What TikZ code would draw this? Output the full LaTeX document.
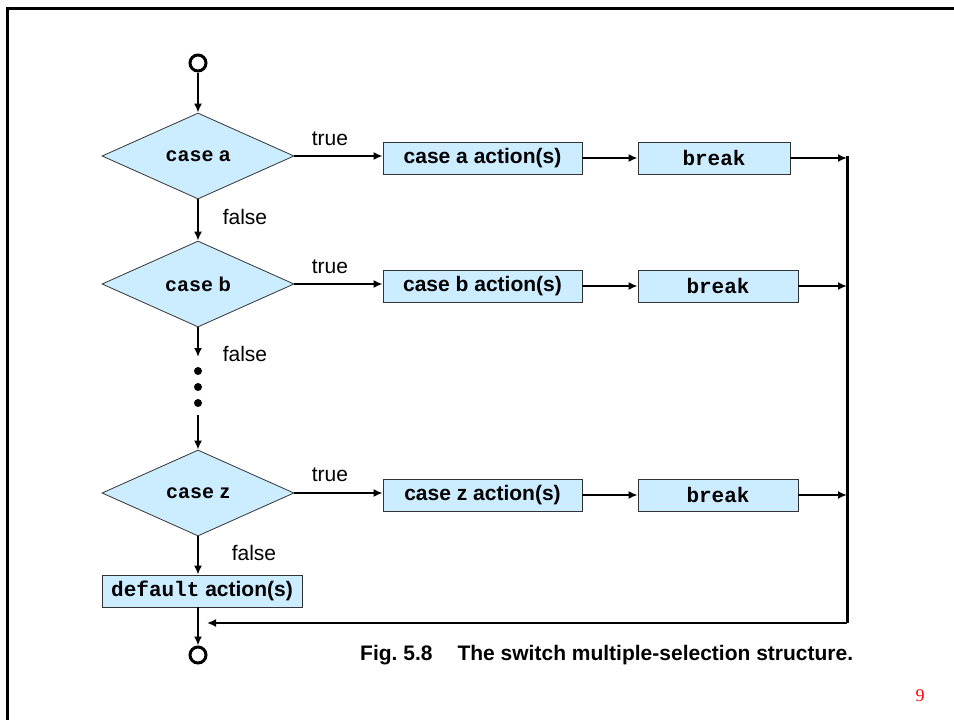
\documentclass[tikz,border=0pt]{standalone}
\usepackage{fontspec}
\setmainfont{Liberation Sans}
\newfontfamily\monofam{Liberation Mono}
\newfontfamily\seriffam{Liberation Serif}
\usetikzlibrary{shapes.geometric,arrows.meta}
\definecolor{boxfill}{RGB}{204,236,255}
\definecolor{pagered}{RGB}{255,0,0}
\newcommand{\code}[1]{{\monofam\bfseries #1}}
\tikzset{
  flow/.style={line width=2.2pt,-{Latex[length=9pt,width=8pt]}},
  decision/.style={diamond,draw=black!80,line width=0.8pt,fill=boxfill,
    minimum width=192pt,minimum height=86pt,inner sep=0pt,aspect=2.23,
    font=\fontsize{20}{22}\selectfont\bfseries},
  actionbox/.style={rectangle,draw=black!80,line width=0.8pt,fill=boxfill,
    minimum height=32pt,inner sep=0pt,font=\fontsize{21}{23}\selectfont\bfseries},
  terminal/.style={circle,draw,line width=3pt,minimum size=16pt,inner sep=0pt},
  dot/.style={circle,fill=black,minimum size=8pt,inner sep=0pt},
  lbl/.style={font=\fontsize{21}{23}\selectfont,inner sep=0pt},
}
\begin{document}
\begin{tikzpicture}[x=1pt,y=-1pt]
\useasboundingbox (0,0) rectangle (954,720);
% slide border (top and left edges)
\draw[line width=3pt] (954,8) -- (7,8) -- (7,720);

% decisions
\node[terminal] (start) at (198,63) {};
\node[decision] (da) at (198,156) {\code{case} a};
\node[decision] (db) at (198,284) {\code{case} b};
\node[decision] (dz) at (198,493) {\code{case} z};

% action boxes
\node[actionbox,minimum width=199pt] (aa) at (482.5,158) {case a action(s)\hspace{8pt}};
\node[actionbox,minimum width=152pt] (ba) at (714,158) {\code{break}};
\node[actionbox,minimum width=199pt] (ab) at (482.5,286) {case b action(s)};
\node[actionbox,minimum width=160pt] (bb) at (718,286) {\code{break}};
\node[actionbox,minimum width=199pt] (az) at (482.5,495) {case z action(s)};
\node[actionbox,minimum width=160pt] (bz) at (718,495) {\code{break}};
\node[actionbox,minimum width=200pt] (def) at (202,591) {\code{default} action(s)};
\node[terminal] (stop) at (198,655) {};

% ellipsis between case b and case z
\coordinate (gapin) at (198,357);
\coordinate (gapout) at (198,415);
\node[dot] (dot1) at (198,371) {};
\node[dot] (dot2) at (198,387) {};
\node[dot] (dot3) at (198,403) {};

% merge line on the right
\coordinate (ra) at (847,158);
\coordinate (rb) at (847,286);
\coordinate (rz) at (847,495);
\coordinate (rbot) at (847,623);
\coordinate (join) at (198,623);

% main vertical flow
\draw[flow] (start) -- (da.north);
\draw[flow] (da.south) -- (db.north);
\draw[flow] (db.south) -- (gapin);
\draw[flow] (gapout) -- (dz.north);
\draw[flow] (dz.south) -- (dz.south |- def.north);
\draw[flow] (stop.north |- def.south) -- (stop.north);

% true branches
\draw[flow] (da.east) -- (da.east -| aa.west);
\draw[flow] (aa.east) -- (ba.west);
\draw[flow] (ba.east) -- (ra);
\draw[flow] (db.east) -- (db.east -| ab.west);
\draw[flow] (ab.east) -- (bb.west);
\draw[flow] (bb.east) -- (rb);
\draw[flow] (dz.east) -- (dz.east -| az.west);
\draw[flow] (az.east) -- (bz.west);
\draw[flow] (bz.east) -- (rz);

% return to the exit
\draw[line width=3pt] (847,156) -- (rbot);
\draw[flow,shorten >=9pt] (rbot) -- (join);

% branch labels
\node[lbl] (ta) at (330,139) {true};
\node[lbl] (tb) at (330,267) {true};
\node[lbl] (tz) at (330,475) {true};
\node[lbl] (fa) at (245,217) {false};
\node[lbl] (fb) at (245,354) {false};
\node[lbl] (fz) at (254,553) {false};

% caption and page number
\node[anchor=west,inner sep=0pt,font=\fontsize{21}{23}\selectfont\bfseries] (cap)
  at (360,655) {Fig.~5.8\hspace{25pt}The switch multiple-selection structure.};
\node[inner sep=0pt,text=pagered,font=\seriffam\fontsize{18}{20}\selectfont] (pg)
  at (920,696) {9};
\end{tikzpicture}
\end{document}
